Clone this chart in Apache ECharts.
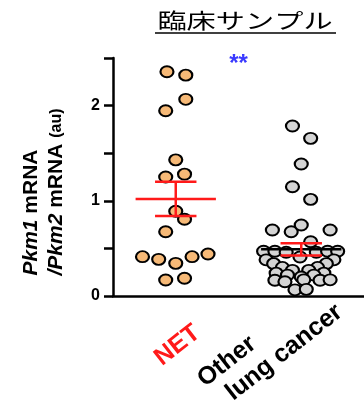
<!DOCTYPE html>
<html><head><meta charset="utf-8">
<script src="https://cdn.jsdelivr.net/npm/echarts@6/dist/echarts.min.js"></script>
<style>html,body{margin:0;padding:0;background:#fff}#c{width:364px;height:403px}</style>
</head><body><div id="c"></div>
<script>
// ---- data ----
const categories = ['NET', 'Other\nlung cancer'];
const titleText = '臨床サンプル';
const yTickLabels = ['0', '1', '2'];
// NET group: horizontal jitter (category units) and values
const netOffsets = [-0.07, 0.08, 0.08, -0.08, 0.0, -0.08, 0.07, 0.0, 0.07, -0.08, -0.265, -0.136, 0.0, 0.13, 0.257, -0.08, 0.07];
const netValues  = [2.356, 2.32, 2.066, 1.946, 1.43, 1.25, 1.28, 0.89, 0.806, 0.675, 0.413, 0.385, 0.343, 0.413, 0.441, 0.168, 0.186];
// Other lung cancer group
const otherOffsets = [-0.07, 0.075, 0.0, -0.07, 0.075, -0.23, -0.08, 0.0, 0.23, 0.075,
  -0.30, -0.21, -0.12, 0.12, 0.21, 0.29, -0.01,
  -0.28, 0.26, -0.22, 0.20, -0.15, 0.13, -0.07, 0.06, -0.20, 0.18, -0.11, 0.10, 0.0,
  -0.21, -0.13, 0.02, 0.15, 0.23, -0.05, 0.04];
const otherValues = [1.786, 1.656, 1.387, 1.148, 1.015, 0.693, 0.675, 0.746, 0.693, 0.57,
  0.47, 0.47, 0.46, 0.46, 0.47, 0.47, 0.41,
  0.38, 0.38, 0.34, 0.34, 0.30, 0.30, 0.27, 0.27, 0.24, 0.24, 0.22, 0.22, 0.20,
  0.165, 0.15, 0.17, 0.165, 0.17, 0.065, 0.07];
const groupMeans = [1.02, 0.49];
const groupSems = [0.18, 0.065];
const significance = '**';

// ---- chart ----
const font = '"Liberation Sans", Arial, sans-serif';
const chart = echarts.init(document.getElementById('c'));
const netData = netValues.map((v, k) => [0 + netOffsets[k], v]);
const otherData = otherValues.map((v, k) => [1 + otherOffsets[k], v]);
const summary = groupMeans.map((m, i) => [i, m, groupSems[i]]);
const labelShift = [[-4, 40], [22, 20]];
const catLabelData = categories.map((c, i) => ({
  name: c, value: [i, 0],
  label: { offset: labelShift[i] }
}));

const pointStyle = (fill) => ({ color: fill, borderColor: '#000', borderWidth: 2, opacity: 1 });

chart.setOption({
  animation: false,
  graphic: [
    { type: 'text', x: 245, y: 20, scaleX: 1.39, scaleY: 1,
      style: { text: titleText, font: '21px "Noto Sans CJK JP"', fill: '#000', x: 0, y: 0, textAlign: 'center', textVerticalAlign: 'middle' } },
    { type: 'line', shape: { x1: 155, y1: 33, x2: 336, y2: 33 }, style: { stroke: '#000', lineWidth: 1.5 } }
  ],
  grid: { left: 113, top: 58, width: 258, height: 238 },
  xAxis: [
    { type: 'category', data: categories, boundaryGap: true,
      axisLine: { onZero: false, lineStyle: { color: '#000', width: 2.5 } },
      axisTick: { alignWithLabel: true, length: 8, lineStyle: { color: '#000', width: 2.5 } },
      splitLine: { show: false },
      axisLabel: { show: false } },
    { type: 'value', min: -0.5, max: 1.5, show: false }
  ],
  yAxis: {
    type: 'value', min: 0, max: 2.5, interval: 0.5,
    axisLine: { show: true, onZero: false, lineStyle: { color: '#000', width: 2.5 } },
    axisTick: { show: true, length: 9, lineStyle: { color: '#000', width: 2.5 } },
    splitLine: { show: false },
    axisLabel: { margin: 13, color: '#000', fontSize: 16, fontWeight: 'bold', fontFamily: font,
      formatter: (v) => Number.isInteger(v) && yTickLabels.includes(String(v)) ? String(v) : '' },
    name: '{i|Pkm1}{n| mRNA}\n{i|/Pkm2}{n| mRNA }{s|(au)}',
    nameLocation: 'middle', nameRotate: 90, nameGap: 44,
    nameTextStyle: {
      padding: [0, 30, 0, 0],
      rich: {
        i: { fontStyle: 'italic', fontWeight: 'bold', fontSize: 21, fontFamily: font, color: '#000', align: 'left', lineHeight: 25 },
        n: { fontWeight: 'bold', fontSize: 21, fontFamily: font, color: '#000', align: 'left', lineHeight: 25 },
        s: { fontWeight: 'bold', fontSize: 16, fontFamily: font, color: '#000', align: 'left', lineHeight: 25 }
      }
    }
  },
  series: [
    { type: 'scatter', xAxisIndex: 1, data: netData, symbolSize: [13, 11], itemStyle: pointStyle('#f6b977'), z: 3 },
    { type: 'scatter', xAxisIndex: 1, data: otherData, symbolSize: [13, 11], itemStyle: pointStyle('#d4d4d4'), z: 3 },
    { type: 'custom', xAxisIndex: 1, data: summary, z: 5,
      renderItem: (params, api) => {
        const i = api.value(0), m = api.value(1), s = api.value(2);
        const w = 0.32, c = 0.165;
        const meanColor = i === 0 ? '#ff1a1a' : '#000';
        const L = (a, b, col) => {
          const p = api.coord(a), q = api.coord(b);
          return { type: 'line', shape: { x1: p[0], y1: p[1], x2: q[0], y2: q[1] }, style: { stroke: col, lineWidth: 2.5 } };
        };
        return { type: 'group', children: [
          L([i - w, m], [i + w, m], meanColor),
          L([i, m - s], [i, m + s], '#ff1a1a'),
          L([i - c, m + s], [i + c, m + s], '#ff1a1a'),
          L([i - c, m - s], [i + c, m - s], '#ff1a1a')
        ] };
      } },
    { type: 'scatter', xAxisIndex: 1, data: [[0.5, 2.5]], symbolSize: 0, silent: true, itemStyle: { opacity: 1 },
      label: { show: true, position: 'inside', formatter: significance, color: '#3a3aff', fontSize: 24, fontWeight: 'bold', fontFamily: font, offset: [0, 6] } },
    { type: 'scatter', xAxisIndex: 1, data: catLabelData, symbolSize: 0, silent: true, clip: false, itemStyle: { opacity: 1 }, z: 10,
      label: { show: true, position: 'inside', rotate: 38, align: 'right', verticalAlign: 'middle',
        formatter: (p) => p.dataIndex === 0 ? '{net|' + p.name + '}'
          : p.name.split('\n').map((s, k) => (k === 0 ? '{oth|' : '{oth2|') + s + '}').join('\n'),
        rich: {
          net: { color: '#ff1a1a', fontSize: 25, fontWeight: 'bold', fontFamily: font, lineHeight: 28 },
          oth: { color: '#000', fontSize: 25, fontWeight: 'bold', fontFamily: font, align: 'left', lineHeight: 28 },
          oth2: { color: '#000', fontSize: 25, fontWeight: 'bold', fontFamily: font, align: 'left', lineHeight: 28, padding: [0, 0, 0, 14] }
        } } }
  ]
});
</script></body></html>
